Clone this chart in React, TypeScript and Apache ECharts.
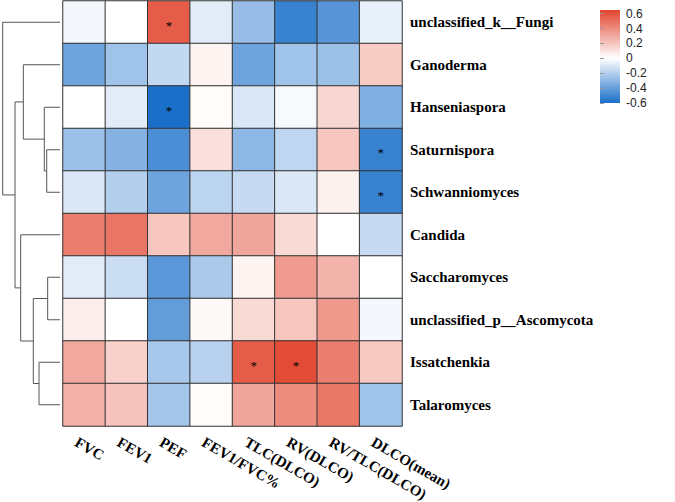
import React, { useEffect, useRef } from 'react';
import * as echarts from 'echarts';

const genera = [
  'unclassified_k__Fungi',
  'Ganoderma',
  'Hanseniaspora',
  'Saturnispora',
  'Schwanniomyces',
  'Candida',
  'Saccharomyces',
  'unclassified_p__Ascomycota',
  'Issatchenkia',
  'Talaromyces',
];
const measures = ['FVC', 'FEV1', 'PEF', 'FEV1/FVC%', 'TLC(DLCO)', 'RV(DLCO)', 'RV/TLC(DLCO)', 'DLCO(mean)'];

// correlation values per genus, in the order of `measures`
const fungiK = [-0.03, 0, 0.57, -0.08, -0.27, -0.52, -0.44, -0.06];
const ganoderma = [-0.38, -0.25, -0.16, 0.04, -0.38, -0.25, -0.26, 0.18];
const hanseniaspora = [0, -0.08, -0.6, 0.01, -0.1, -0.02, 0.14, -0.33];
const saturnispora = [-0.26, -0.32, -0.47, 0.11, -0.3, -0.17, 0.2, -0.52];
const schwanniomyces = [-0.1, -0.2, -0.38, -0.18, -0.15, -0.1, 0.05, -0.52];
const candida = [0.45, 0.48, 0.2, 0.3, 0.31, 0.13, 0, -0.15];
const saccharomyces = [-0.08, -0.14, -0.43, -0.22, 0.04, 0.35, 0.26, 0];
const ascomycotaP = [0.06, 0, -0.41, 0.02, 0.13, 0.2, 0.36, -0.03];
const issatchenkia = [0.3, 0.16, -0.23, -0.19, 0.57, 0.63, 0.45, 0.19];
const talaromyces = [0.27, 0.21, -0.24, 0.01, 0.31, 0.4, 0.47, -0.25];
const rowValues = [
  fungiK, ganoderma, hanseniaspora, saturnispora, schwanniomyces,
  candida, saccharomyces, ascomycotaP, issatchenkia, talaromyces,
];

// cells marked with *
const significant: [string, string][] = [
  ['unclassified_k__Fungi', 'PEF'],
  ['Hanseniaspora', 'PEF'],
  ['Saturnispora', 'DLCO(mean)'],
  ['Schwanniomyces', 'DLCO(mean)'],
  ['Issatchenkia', 'TLC(DLCO)'],
  ['Issatchenkia', 'RV(DLCO)'],
];

const legendTicks = [-0.6, -0.4, -0.2, 0, 0.2, 0.4, 0.6];
const colorMin = -0.6;
const colorMax = 0.65;

// row dendrogram: [left, right, height]; strings are leaves, numbers refer to earlier merges
type Ref = string | number;
const dendroMerges: [Ref, Ref, number][] = [
  ['Saturnispora', 'Schwanniomyces', 0.232],
  ['Hanseniaspora', 0, 0.274],
  ['Ganoderma', 1, 0.64],
  ['Saccharomyces', 'unclassified_p__Ascomycota', 0.215],
  ['Issatchenkia', 'Talaromyces', 0.366],
  [3, 4, 0.466],
  ['Candida', 5, 0.686],
  [2, 6, 0.785],
  ['unclassified_k__Fungi', 7, 1.0],
];

const BLUE = [26, 111, 201];
const RED = [225, 69, 47];
const WHITE = [255, 255, 255];

function mix(a: number[], b: number[], t: number) {
  const c = a.map((v, i) => Math.round(v + (b[i] - v) * t));
  return `rgb(${c[0]},${c[1]},${c[2]})`;
}
function colorAt(v: number) {
  if (v < 0) return mix(WHITE, BLUE, Math.min(1, -v / 0.6));
  return mix(WHITE, RED, Math.min(1, v / colorMax));
}

const SERIF = "'Liberation Serif', 'Times New Roman', serif";

export default function App() {
  const ref = useRef<HTMLDivElement>(null);

  useEffect(() => {
    if (!ref.current) return;
    const chart = echarts.init(ref.current, null, { renderer: 'svg' });

    const stepVals: number[] = [];
    const nStops = Math.round((colorMax - colorMin) / 0.05);
    for (let i = 0; i <= nStops; i++) stepVals.push(colorMin + 0.05 * i);
    const stops = stepVals.map(colorAt);

    const sigSet = new Set(significant.map(([g, m]) => g + '|' + m));
    const data: any[] = [];
    genera.forEach((g, r) => {
      measures.forEach((m, c) => {
        data.push([c, r, rowValues[r][c], sigSet.has(g + '|' + m) ? 1 : 0]);
      });
    });

    const labelFont = {
      color: '#000',
      fontFamily: SERIF,
      fontWeight: 'bold',
      fontSize: 15,
    };

    const option: any = {
      animation: false,
      grid: [
        { left: 63, top: 1, width: 339, height: 425, outerBoundsMode: 'none' },
        { left: 600, top: 10, width: 20, height: 93, outerBoundsMode: 'none' },
        // label-only grid, shifted slightly left so the column labels start left of the cell centres
        { left: 55, top: 1, width: 339, height: 425, outerBoundsMode: 'none' },
      ],
      xAxis: [
        {
          type: 'category',
          gridIndex: 0,
          data: measures,
          axisLine: { show: false },
          axisTick: { show: false },
          splitLine: { show: false },
          axisLabel: { show: false },
        },
        { type: 'value', gridIndex: 1, show: false },
        {
          type: 'category',
          gridIndex: 2,
          data: measures,
          position: 'bottom',
          axisLine: { show: false },
          axisTick: { show: false },
          splitLine: { show: false },
          axisLabel: { rotate: -30, margin: 15, interval: 0, ...labelFont },
        },
      ],
      yAxis: [
        {
          type: 'category',
          gridIndex: 0,
          data: genera,
          inverse: true,
          position: 'right',
          axisLine: { show: false },
          axisTick: { show: false },
          splitLine: { show: false },
          axisLabel: { margin: 8, interval: 0, align: 'left', ...labelFont },
        },
        {
          type: 'value',
          gridIndex: 1,
          min: colorMin,
          max: colorMax,
          position: 'right',
          axisLine: { show: false },
          splitLine: { show: false },
          axisTick: {
            show: true,
            length: 4,
            lineStyle: { color: '#999' },
            customValues: legendTicks,
          },
          axisLabel: {
            margin: 6,
            align: 'left',
            color: '#222',
            fontFamily: "'Liberation Sans', Arial, sans-serif",
            fontSize: 12,
            customValues: legendTicks,
            formatter: (v: number) => String(+v.toFixed(1)),
          },
        },
        { type: 'category', gridIndex: 2, data: genera, show: false },
      ],
      visualMap: {
        type: 'continuous',
        show: false,
        min: colorMin,
        max: colorMax,
        dimension: 2,
        seriesIndex: 0,
        inRange: { color: stops },
      },
      series: [
        {
          type: 'heatmap',
          xAxisIndex: 0,
          yAxisIndex: 0,
          data,
          itemStyle: { borderColor: '#333', borderWidth: 1 },
          emphasis: { disabled: true },
          label: {
            show: true,
            color: '#000',
            fontFamily: SERIF,
            fontSize: 13,
            offset: [0, 3],
            formatter: (p: any) => (p.data[3] ? '*' : ''),
          },
        },
      ],
    };
    chart.setOption(option);

    const graphics: any[] = [];

    // colour bar, placed on the legend axis
    const yTop = chart.convertToPixel({ yAxisIndex: 1 } as any, colorMax) as number;
    const yBot = chart.convertToPixel({ yAxisIndex: 1 } as any, colorMin) as number;
    const gradStops = stepVals
      .map((v, i) => ({ offset: (colorMax - v) / (colorMax - colorMin), color: stops[i] }))
      .reverse();
    graphics.push({
      type: 'rect',
      silent: true,
      shape: { x: 600, y: yTop, width: 20, height: yBot - yTop },
      style: { fill: new echarts.graphic.LinearGradient(0, 0, 0, 1, gradStops) },
    });

    // dendrogram
    const X0 = 60;
    const W = 57.3;
    const yOf = (name: string) => chart.convertToPixel({ yAxisIndex: 0 } as any, name) as number;
    const pos: { x: number; y: number }[] = [];
    const refPos = (r: Ref) => (typeof r === 'string' ? { x: X0, y: yOf(r) } : pos[r]);
    dendroMerges.forEach(([a, b, h], i) => {
      const pa = refPos(a);
      const pb = refPos(b);
      const x = X0 - h * W;
      graphics.push({
        type: 'polyline',
        silent: true,
        shape: { points: [[pa.x, pa.y], [x, pa.y], [x, pb.y], [pb.x, pb.y]] },
        style: { stroke: '#555', lineWidth: 1, fill: null },
      });
      pos[i] = { x, y: (pa.y + pb.y) / 2 };
    });
    chart.setOption({ graphic: graphics });

    return () => chart.dispose();
  }, []);

  return (
    <div
      ref={ref}
      style={{ position: 'fixed', left: 0, top: 0, width: 675, height: 502, background: '#fff' }}
    />
  );
}
